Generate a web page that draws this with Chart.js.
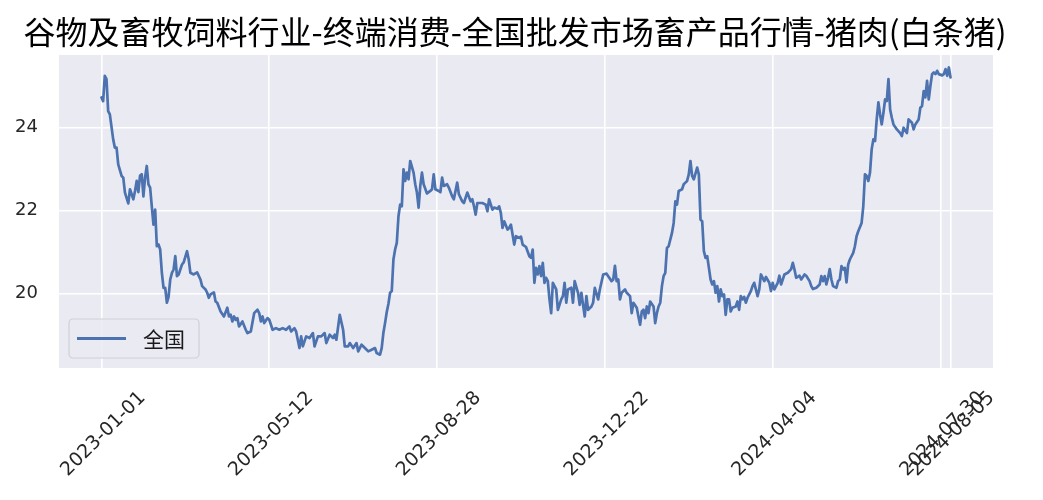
<!DOCTYPE html>
<html>
<head>
<meta charset="utf-8">
<script src="https://cdn.jsdelivr.net/npm/chart.js@4.4.1/dist/chart.umd.min.js"></script>
<style>
html,body{margin:0;padding:0;background:#fff;}
#wrap{width:1043px;height:500px;}
</style>
</head>
<body>
<div id="wrap"><canvas id="c" width="1043" height="500"></canvas></div>
<script>
const TITLE = '谷物及畜牧饲料行业-终端消费-全国批发市场畜产品行情-猪肉(白条猪)';
const SERIES_NAME = '全国';
const tickIdx = [0, 100, 200, 300, 400, 500, 506];
const tickLabels = ['2023-01-01','2023-05-12','2023-08-28','2023-12-22','2024-04-04','2024-07-30','2024-08-05'];
const yTicks = [20, 22, 24];

const dayIdx = [
0,1,2,3,4,5,7,8,9,10,12,13,14,16,17,19,20,21,22,23,24,25,26,27,28,29,30,31,32,33,34,35,36,37,38,39,40,41,42,43,44,45,46,48,49,51,52,53,55,57,
59,60,62,63,64,65,67,68,69,71,73,75,76,77,78,79,80,81,82,84,86,87,89,91,93,94,95,96,97,99,100,102,104,106,108,110,112,113,115,116,118,119,120,122,124,126,127,129,131,133,
134,136,138,139,140,142,144,145,147,148,150,152,153,155,157,159,161,163,164,166,167,168,169,170,171,172,173,174,175,176,177,178,179,180,181,182,183,184,186,187,188,189,190,191,192,194,196,197,198,199,
201,202,203,204,206,207,209,210,212,213,215,216,218,220,221,222,223,224,225,227,229,230,231,233,234,236,237,238,239,240,242,243,244,245,246,247,249,250,251,253,255,256,257,258,259,260,261,262,263,264,
265,266,267,268,269,271,272,274,275,276,277,278,280,281,282,284,285,286,287,288,289,290,292,293,294,296,297,299,301,302,304,305,306,307,308,309,310,312,313,315,316,317,319,320,321,322,323,324,325,326,
327,329,330,331,332,333,334,335,336,337,338,340,341,342,343,344,346,347,348,349,350,351,352,353,355,356,357,358,359,360,361,362,363,364,365,366,367,368,369,370,371,372,373,374,375,376,378,379,380,381,
382,383,384,385,387,388,389,391,392,393,395,396,398,399,400,401,403,404,405,407,409,411,412,413,414,416,417,419,420,422,423,424,426,428,429,430,431,432,433,434,435,436,438,439,440,441,442,443,444,445,
446,448,449,450,451,453,454,455,456,457,458,459,460,461,462,463,464,465,466,467,468,469,470,471,472,474,476,477,478,480,481,483,484,485,487,488,489,490,491,492,493,494,495,496,497,498,499,501,502,503,
504,505,506
];

const price = [
24.72,24.63,25.24,25.16,24.39,24.31,23.71,23.51,23.51,23.11,22.83,22.79,22.43,22.17,22.51,22.27,22.47,22.71,22.44,22.84,22.87,22.34,22.79,23.07,22.63,22.55,22.10,21.66,22.02,21.14,21.18,21.06,20.50,20.14,20.14,19.78,19.92,20.34,20.50,20.58,20.90,20.42,20.46,20.70,20.75,21.02,20.82,20.50,20.46,20.51,
20.34,20.18,20.10,20.02,19.90,19.98,20.03,19.81,19.78,19.57,19.45,19.66,19.45,19.49,19.33,19.45,19.37,19.41,19.21,19.33,19.13,19.05,19.09,19.53,19.61,19.53,19.33,19.45,19.29,19.41,19.37,19.13,19.17,19.13,19.17,19.13,19.21,19.09,19.17,19.09,18.69,18.97,18.73,18.97,18.93,19.05,18.73,18.97,18.97,19.05,
18.81,19.01,18.93,19.01,18.89,19.49,19.13,18.73,18.73,18.81,18.69,18.81,18.61,18.77,18.69,18.61,18.65,18.69,18.57,18.53,18.69,19.05,19.29,19.55,19.75,20.02,20.06,20.82,21.06,21.22,21.86,22.14,22.10,22.99,22.71,22.91,22.75,23.19,22.91,22.63,22.43,22.07,22.59,22.91,22.63,22.41,22.47,22.51,22.87,22.51,
22.47,22.44,22.79,22.59,22.63,22.55,22.34,22.27,22.67,22.39,22.22,22.18,22.43,22.22,22.27,22.10,21.90,22.18,22.18,22.18,22.14,21.98,22.27,22.02,22.07,22.04,22.10,21.94,21.58,21.74,21.54,21.58,21.66,21.42,21.18,21.38,21.34,21.37,21.18,21.12,20.90,20.86,21.06,20.26,20.62,20.46,20.66,20.42,20.74,20.26,
20.38,20.30,19.86,19.53,20.26,20.10,19.61,19.86,19.94,20.26,19.78,20.10,20.14,19.78,20.30,20.02,19.73,20.02,19.73,19.45,19.94,19.61,19.69,19.78,20.14,19.86,20.10,20.46,20.48,20.42,20.30,20.34,20.67,20.30,20.34,19.86,20.02,20.10,20.02,19.94,19.53,19.78,19.66,19.45,19.25,19.57,19.61,19.41,19.69,19.53,
19.81,19.69,19.29,19.53,19.69,19.78,20.18,20.42,20.50,21.10,21.14,21.46,21.70,22.22,22.14,22.47,22.51,22.63,22.67,22.71,22.87,23.19,22.83,22.75,23.03,22.87,21.78,21.74,21.02,20.86,20.90,20.62,20.34,20.22,20.30,20.02,20.18,19.81,20.10,19.94,19.98,19.49,19.86,19.86,19.57,19.66,19.69,19.81,19.61,19.94,
19.86,19.92,19.78,19.90,20.06,20.18,20.26,19.94,20.10,20.46,20.30,20.40,20.26,20.06,20.26,20.10,20.26,20.43,20.22,20.46,20.50,20.59,20.74,20.58,20.38,20.43,20.34,20.46,20.43,20.30,20.18,20.11,20.14,20.22,20.42,20.30,20.42,20.22,20.38,20.59,20.34,20.18,20.14,20.30,20.34,20.66,20.58,20.62,20.27,20.70,
20.82,20.98,21.14,21.38,21.50,21.70,22.10,22.87,22.83,22.71,22.91,23.47,23.71,23.67,24.19,24.60,24.31,24.07,24.35,24.67,24.63,25.16,24.43,24.23,24.07,23.95,23.86,23.79,23.99,23.86,24.19,24.11,23.95,24.07,24.19,24.47,24.51,24.87,24.72,25.12,24.67,25.00,25.28,25.32,25.28,25.36,25.28,25.25,25.28,25.40,
25.24,25.44,25.20
];

const points = dayIdx.map((d, i) => ({x: d, y: price[i]}));

const bgPlugin = {
  id: 'bg',
  beforeDraw(chart) {
    const {ctx, chartArea: a} = chart;
    ctx.save();
    ctx.fillStyle = '#ffffff';
    ctx.fillRect(0, 0, chart.width, chart.height);
    ctx.fillStyle = '#EAEAF2';
    ctx.fillRect(a.left, a.top, a.right - a.left, a.bottom - a.top);
    ctx.restore();
  }
};

function roundRect(ctx, x, y, w, h, r) {
  ctx.beginPath();
  ctx.moveTo(x + r, y);
  ctx.lineTo(x + w - r, y);
  ctx.arcTo(x + w, y, x + w, y + r, r);
  ctx.lineTo(x + w, y + h - r);
  ctx.arcTo(x + w, y + h, x + w - r, y + h, r);
  ctx.lineTo(x + r, y + h);
  ctx.arcTo(x, y + h, x, y + h - r, r);
  ctx.lineTo(x, y + r);
  ctx.arcTo(x, y, x + r, y, r);
  ctx.closePath();
}

const legendPlugin = {
  id: 'innerLegend',
  afterDatasetsDraw(chart) {
    const {ctx, chartArea: a} = chart;
    const ds = chart.data.datasets[0];
    const w = 130, h = 39;
    const x = a.left + 10, y = a.bottom - 10 - h;
    ctx.save();
    roundRect(ctx, x, y, w, h, 4);
    ctx.fillStyle = 'rgba(234,234,242,0.85)';
    ctx.fill();
    ctx.strokeStyle = '#cfcfd6';
    ctx.lineWidth = 1.2;
    ctx.stroke();
    ctx.beginPath();
    ctx.moveTo(x + 8, y + h / 2);
    ctx.lineTo(x + 57, y + h / 2);
    ctx.strokeStyle = ds.borderColor;
    ctx.lineWidth = 2.8;
    ctx.stroke();
    ctx.fillStyle = '#1a1a1a';
    ctx.font = '21px "Noto Sans CJK SC"';
    ctx.textBaseline = 'middle';
    ctx.textAlign = 'left';
    ctx.fillText(ds.label, x + 74, y + h / 2 + 1);
    ctx.restore();
  }
};

new Chart(document.getElementById('c'), {
  type: 'line',
  data: {
    datasets: [{
      label: SERIES_NAME,
      data: points,
      borderColor: '#4C72B0',
      borderWidth: 2.7,
      pointRadius: 0,
      tension: 0,
      fill: false,
      borderJoinStyle: 'round',
      borderCapStyle: 'round'
    }]
  },
  options: {
    responsive: false,
    animation: false,
    devicePixelRatio: 1,
    layout: {padding: {left: 0, right: 13, top: 0, bottom: 0}},
    plugins: {
      legend: {display: false},
      tooltip: {enabled: false},
      title: {
        display: true,
        text: TITLE,
        color: '#000000',
        font: {family: '"Noto Sans CJK SC"', size: 32, weight: 'normal', lineHeight: 1.2},
        padding: {top: 13, bottom: 3.6}
      }
    },
    scales: {
      x: {
        type: 'linear',
        min: -25.3,
        max: 531.3,
        border: {display: false},
        grid: {color: '#ffffff', lineWidth: 1.6, drawTicks: false},
        afterBuildTicks: (s) => { s.ticks = tickIdx.map(v => ({value: v})); },
        afterFit: (s) => { s.height = 132; },
        ticks: {
          autoSkip: false,
          minRotation: 45,
          maxRotation: 45,
          labelOffset: 41,
          padding: 19,
          color: '#262626',
          font: {family: '"DejaVu Sans"', size: 19},
          callback: (v, i) => tickLabels[i]
        }
      },
      y: {
        min: 18.21,
        max: 25.74,
        border: {display: false},
        grid: {color: '#ffffff', lineWidth: 1.6, drawTicks: false},
        afterBuildTicks: (s) => { s.ticks = yTicks.map(v => ({value: v})); },
        afterFit: (s) => { s.width = 59; },
        ticks: {
          padding: 21,
          color: '#262626',
          font: {family: '"DejaVu Sans"', size: 18},
          callback: (v) => String(v)
        }
      },
      spacer: {
        position: 'right',
        display: true,
        border: {display: false},
        grid: {display: false, drawTicks: false},
        ticks: {display: false},
        afterFit: (s) => { s.width = 37; }
      }
    }
  },
  plugins: [bgPlugin, legendPlugin]
});
</script>
</body>
</html>
